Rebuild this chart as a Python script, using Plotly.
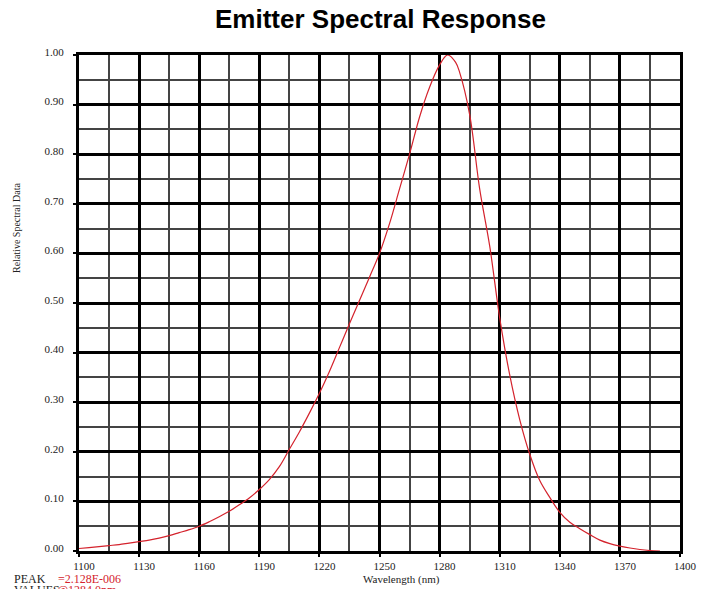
import plotly.graph_objects as go

wavelength = [1100, 1105, 1110, 1115, 1120, 1125, 1130, 1135, 1140, 1145, 1150, 1155,
              1160, 1165, 1170, 1175, 1180, 1185, 1190, 1195, 1200, 1205, 1210, 1215,
              1220, 1225, 1230, 1235, 1240, 1245, 1250, 1255, 1260, 1265, 1270, 1275,
              1280, 1284, 1288, 1290, 1295, 1300, 1305, 1310, 1315, 1320, 1325, 1330,
              1335, 1340, 1345, 1350, 1355, 1360, 1365, 1370, 1375, 1380, 1385, 1390]
response = [0.005, 0.007, 0.009, 0.011, 0.013, 0.016, 0.019, 0.022, 0.026, 0.031, 0.037, 0.043,
            0.050, 0.059, 0.069, 0.080, 0.093, 0.107, 0.124, 0.144, 0.170, 0.205, 0.240, 0.278,
            0.318, 0.362, 0.410, 0.458, 0.505, 0.552, 0.600, 0.660, 0.730, 0.800, 0.875, 0.935,
            0.980, 1.000, 0.985, 0.965, 0.880, 0.730, 0.615, 0.470, 0.355, 0.265, 0.195, 0.142,
            0.108, 0.078, 0.058, 0.045, 0.033, 0.022, 0.015, 0.010, 0.006, 0.003, 0.001, 0.000]

x_ticks = [1100, 1130, 1160, 1190, 1220, 1250, 1280, 1310, 1340, 1370, 1400]
y_ticks = [0.0, 0.1, 0.2, 0.3, 0.4, 0.5, 0.6, 0.7, 0.8, 0.9, 1.0]
y_tick_labels = ["0.00", "0.10", "0.20", "0.30", "0.40", "0.50", "0.60", "0.70", "0.80", "0.90", "1.00"]

serif = "Liberation Serif, Times New Roman, serif"
sans = "Liberation Sans, Arial, sans-serif"
red = "#d4222c"

# figure sits at an 8px page offset (default body margin)
FIG_W, FIG_H = 700, 581
ML, MR, MT, MB = 71, 28, 47, 38
PW = FIG_W - ML - MR
PH = FIG_H - MT - MB


def px(page_x):
    return (page_x - 8 - ML) / PW


def py(page_y):
    return (FIG_H - MB - (page_y - 8)) / PH


fig = go.Figure()
fig.add_trace(go.Scatter(x=wavelength, y=response, mode="lines",
                         line=dict(color=red, width=1.2, shape="spline"),
                         hoverinfo="skip", showlegend=False))

fig.update_layout(
    width=FIG_W, height=FIG_H,
    margin=dict(l=ML, r=MR, t=MT, b=MB, autoexpand=False),
    paper_bgcolor="white", plot_bgcolor="white",
    xaxis=dict(range=[1100, 1400], tickvals=x_ticks, ticktext=[str(v) for v in x_ticks],
               showgrid=True, gridcolor="black", gridwidth=2.6,
               minor=dict(dtick=15, tick0=1100, showgrid=True, gridcolor="#444444", gridwidth=1.6),
               showline=True, linecolor="black", linewidth=3, mirror=True,
               ticks="outside", ticklen=3, tickwidth=2, tickcolor="black",
               ticklabelshift=5, ticklabelstandoff=0,
               tickfont=dict(family=serif, size=11, color="#222"),
               zeroline=False, fixedrange=True),
    yaxis=dict(range=[0, 1], tickvals=y_ticks, ticktext=y_tick_labels,
               showgrid=True, gridcolor="black", gridwidth=2.6,
               minor=dict(dtick=0.05, tick0=0, showgrid=True, gridcolor="#444444", gridwidth=1.6),
               showline=True, linecolor="black", linewidth=3, mirror=True,
               ticks="outside", ticklen=3, tickwidth=2, tickcolor="black",
               ticklabelshift=-3, ticklabelstandoff=7,
               tickfont=dict(family=serif, size=11, color="#222"),
               zeroline=False, fixedrange=True),
)

# title
fig.add_annotation(text="<b>Emitter Spectral Response</b>", xref="paper", yref="paper",
                   x=px(380), y=py(19), xanchor="center", yanchor="middle", showarrow=False,
                   font=dict(family=sans, size=26, color="black"))
# axis titles
fig.add_annotation(text="Wavelength (nm)", xref="paper", yref="paper",
                   x=px(401), y=py(579), xanchor="center", yanchor="middle", showarrow=False,
                   font=dict(family=serif, size=11, color="#222"))
fig.add_annotation(text="Relative Spectral Data", xref="paper", yref="paper", textangle=-90,
                   x=px(17), y=py(228), xanchor="center", yanchor="middle", showarrow=False,
                   font=dict(family=serif, size=10, color="#222"))
# peak info (bottom-left, partly below the visible page as in the source)
fig.add_annotation(text="PEAK", xref="paper", yref="paper", x=px(12), y=py(579),
                   xanchor="left", yanchor="middle", showarrow=False,
                   font=dict(family=serif, size=12, color="#222"))
fig.add_annotation(text="=2.128E-006", xref="paper", yref="paper", x=px(56), y=py(579),
                   xanchor="left", yanchor="middle", showarrow=False,
                   font=dict(family=serif, size=12, color=red))
fig.add_annotation(text="VALUES", xref="paper", yref="paper", x=px(12), y=py(590),
                   xanchor="left", yanchor="middle", showarrow=False,
                   font=dict(family=serif, size=12, color="#222"))
fig.add_annotation(text="@1284.0nm", xref="paper", yref="paper", x=px(55), y=py(590),
                   xanchor="left", yanchor="middle", showarrow=False,
                   font=dict(family=serif, size=12, color=red))

fig.write_html("out.html")
